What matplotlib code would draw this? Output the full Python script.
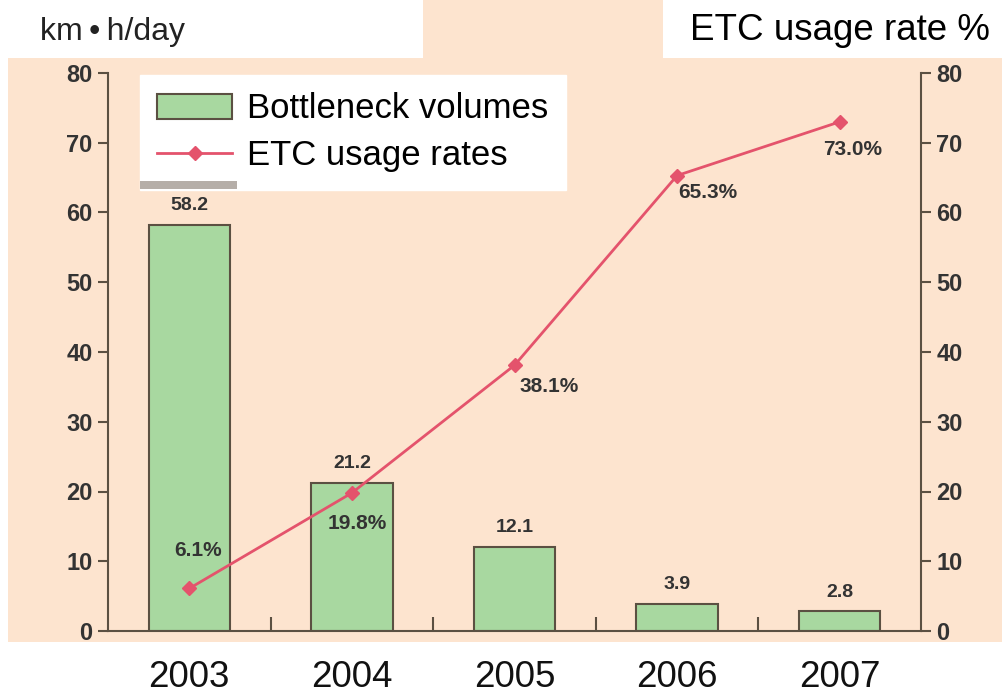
import matplotlib
matplotlib.use("Agg")
import matplotlib.pyplot as plt
from matplotlib.patches import Rectangle, Patch
from matplotlib.lines import Line2D

years = ["2003", "2004", "2005", "2006", "2007"]
bottleneck = [58.2, 21.2, 12.1, 3.9, 2.8]
etc_rate = [6.1, 19.8, 38.1, 65.3, 73.0]
yticks = [0, 10, 20, 30, 40, 50, 60, 70, 80]

plt.rcParams['font.family'] = ['Liberation Sans', 'DejaVu Sans']

W, H = 1003, 694
fig = plt.figure(figsize=(W / 100, H / 100), dpi=100)
fig.patch.set_facecolor('white')

def px(x0, y0, x1, y1):
    return (x0 / W, 1 - y1 / H, (x1 - x0) / W, (y1 - y0) / H)

peach = '#fde4cf'
# peach backdrop
l, b, w, h = px(8, 0, W, 642)
fig.patches.append(Rectangle((l, b), w, h, transform=fig.transFigure, facecolor=peach, edgecolor='none', zorder=-3))
# white boxes for titles
l, b, w, h = px(0, 0, 423, 58)
fig.patches.append(Rectangle((l, b), w, h, transform=fig.transFigure, facecolor='white', edgecolor='none', zorder=-2))
l, b, w, h = px(663, 0, W, 58)
fig.patches.append(Rectangle((l, b), w, h, transform=fig.transFigure, facecolor='white', edgecolor='none', zorder=-2))
l, b, w, h = px(140, 181, 237, 189)
fig.patches.append(Rectangle((l, b), w, h, transform=fig.transFigure, facecolor='#b5aea8', edgecolor='none', zorder=10))

ax = fig.add_axes(px(108, 73, 921, 631))
ax.set_zorder(2)
ax.set_facecolor('none')
x = list(range(len(years)))
spine_c = '#5b5042'
ax.bar(x, bottleneck, width=0.5, color='#a8d8a0', edgecolor=spine_c, linewidth=1.5, zorder=2)
ax.set_xlim(-0.5, 4.5)
ax.set_ylim(0, 80)
ax.set_yticks(yticks)
ax.set_xticks(x)
ax.set_xticklabels(years, fontsize=26.5, color='#111111')
ax.tick_params(axis='x', length=0, pad=21)
ax.set_xticks([0.5, 1.5, 2.5, 3.5], minor=True)
ax.tick_params(axis='x', which='minor', direction='in', length=10, width=1.5, color=spine_c)
ax.tick_params(axis='y', direction='out', length=7, width=1.5, color=spine_c, labelsize=17, labelcolor='#333333', pad=4)
for lab in ax.get_yticklabels():
    lab.set_fontweight('bold')
for s in ['left', 'bottom']:
    ax.spines[s].set_color(spine_c)
    ax.spines[s].set_linewidth(1.5)
ax.spines['top'].set_visible(False)
ax.spines['right'].set_visible(False)

ax2 = ax.twinx()
ax2.set_zorder(3)
ax2.set_facecolor('none')
ax2.set_ylim(0, 80)
ax2.set_yticks(yticks)
ax2.tick_params(axis='y', direction='out', length=7, width=1.5, color=spine_c, labelsize=17, labelcolor='#333333', pad=4)
for lab in ax2.get_yticklabels():
    lab.set_fontweight('bold')
for s in ['left', 'top', 'bottom']:
    ax2.spines[s].set_visible(False)
ax2.spines['right'].set_color(spine_c)
ax2.spines['right'].set_linewidth(1.5)

line_c = '#e4536c'
ax2.plot(x, etc_rate, color=line_c, linewidth=2, marker='D', markersize=7, zorder=3)

# value labels on bars
for xi, v in zip(x, bottleneck):
    ax.annotate(f"{v}", (xi, v), xytext=(0, 14), textcoords='offset points',
                ha='center', va='center', fontsize=14, color='#333333', fontweight='bold')

offs = [(6, 27), (4, -22), (25, -15), (22, -12), (9, -20)]
for xi, v, (dx, dy) in zip(x, etc_rate, offs):
    ax2.annotate(f"{v:.1f}%", (xi, v), xytext=(dx, dy), textcoords='offset points',
                 ha='center', va='center', fontsize=15, color='#333333', fontweight='bold')

fig.text(40 / W, 1 - 32 / H, "km\u2009\u2022\u2009h/day", fontsize=23, color='#222222', va='center', ha='left',
         family=['Liberation Sans', 'DejaVu Sans'], zorder=5)
fig.text(990 / W, 1 - 30 / H, "ETC usage rate %", fontsize=26.5, color='black', va='center', ha='right', zorder=5)

# legend
handles = [Patch(facecolor='#a8d8a0', edgecolor=spine_c, linewidth=1.5),
           Line2D([0], [0], color=line_c, linewidth=2, marker='D', markersize=7)]
leg = ax2.legend(handles, ["Bottleneck volumes", "ETC usage rates"], loc='upper left',
                 bbox_to_anchor=(140 / W, 1 - 75 / H), bbox_transform=fig.transFigure,
                 fontsize=25, frameon=True, fancybox=False, framealpha=1, edgecolor='white',
                 facecolor='white', handlelength=2.15, handleheight=0.75, handletextpad=0.43,
                 labelspacing=0.4, borderpad=0.5, borderaxespad=0)
leg.set_zorder(6)

fig.savefig("out.png", dpi=100)
